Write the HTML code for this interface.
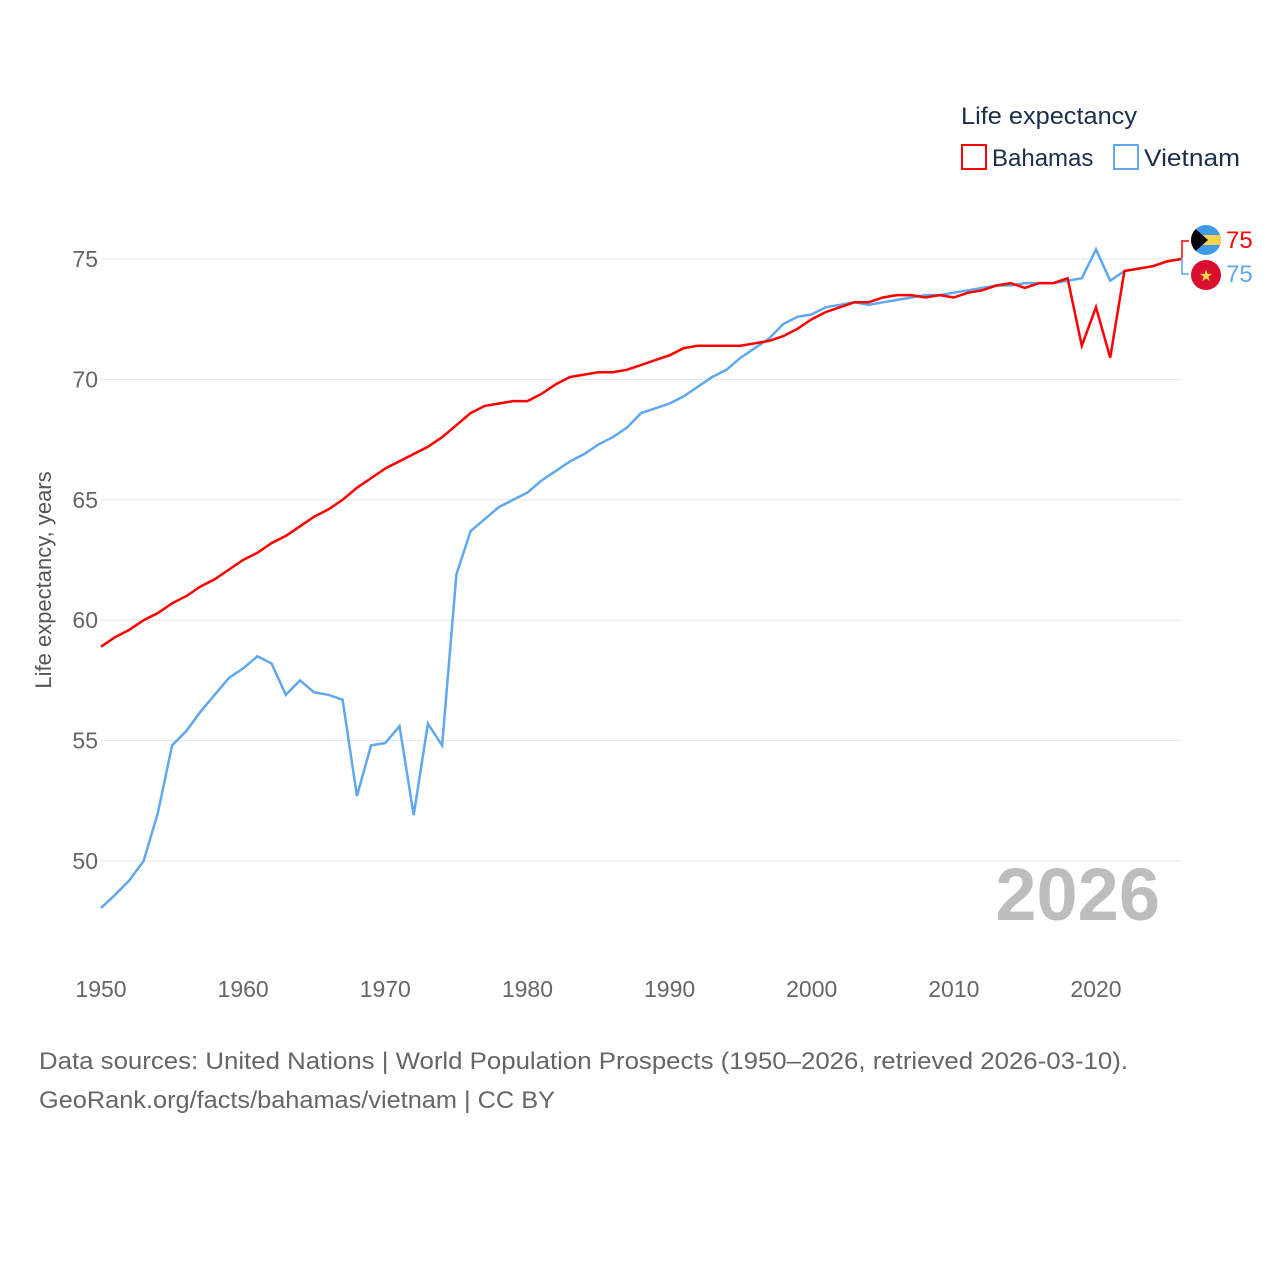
<!DOCTYPE html>
<html><head><meta charset="utf-8"><style>
html,body{margin:0;padding:0;background:#fff;}
body{width:1280px;height:1280px;position:relative;font-family:"Liberation Sans",sans-serif;overflow:hidden;}
</style></head><body>
<svg id="chart" width="1280" height="1280" xmlns="http://www.w3.org/2000/svg" style="position:absolute;left:0;top:0">
<g id="grid"></g>
<g id="yticks"></g>
<g id="xticks"></g>
<text x="1160" y="920" text-anchor="end" font-size="74" font-weight="bold" fill="#bdbdbd">2026</text>
<g id="lines"></g>
<text transform="translate(51,580) rotate(-90)" text-anchor="middle" font-size="22" fill="#555">Life expectancy, years</text>
<text x="961" y="124" font-size="24" fill="#1c2e4a" textLength="176" lengthAdjust="spacingAndGlyphs">Life expectancy</text>
<rect x="962" y="145" width="24" height="24" fill="none" stroke="#ff0000" stroke-width="2"/>
<text x="992" y="166" font-size="24" fill="#1c2e4a">Bahamas</text>
<rect x="1114" y="145" width="24" height="24" fill="none" stroke="#5fa8ee" stroke-width="2"/>
<text x="1144" y="166" font-size="24" fill="#1c2e4a" textLength="96" lengthAdjust="spacingAndGlyphs">Vietnam</text>
<g>
<clipPath id="cb"><circle cx="1206" cy="240" r="15"/></clipPath>
<g clip-path="url(#cb)"><rect x="1190" y="224" width="32" height="32" fill="#3f9ae8"/><rect x="1190" y="235" width="32" height="10" fill="#fcd34d"/><polygon points="1190,224 1208,240 1190,256" fill="#000"/></g>
</g>
<g>
<circle cx="1206" cy="275" r="15" fill="#d80f2e"/>
<text x="1206" y="281" text-anchor="middle" font-size="16" fill="#fcd34d">★</text>
</g>
<path d="M1189,241 H1182 V258" fill="none" stroke="#ff0000" stroke-width="1.5"/>
<path d="M1189,274 H1182 V258" fill="none" stroke="#5fa8ee" stroke-width="1.5"/>
<text x="1226" y="248" font-size="24" fill="#ff0000">75</text>
<text x="1226" y="282" font-size="24" fill="#5fa8ee">75</text>
<text x="39" y="1069" font-size="24" fill="#666" textLength="1089" lengthAdjust="spacingAndGlyphs">Data sources: United Nations | World Population Prospects (1950–2026, retrieved 2026-03-10).</text>
<text x="39" y="1108" font-size="24" fill="#666" textLength="516" lengthAdjust="spacingAndGlyphs">GeoRank.org/facts/bahamas/vietnam | CC BY</text>
</svg>
<script>
const startYear = 1950;
const yTicks = [50, 55, 60, 65, 70, 75];
const xTicks = [1950, 1960, 1970, 1980, 1990, 2000, 2010, 2020];
const bahamas = [58.9,59.3,59.6,60.0,60.3,60.7,61.0,61.4,61.7,62.1,62.5,62.8,63.2,63.5,63.9,64.3,64.6,65.0,65.5,65.9,66.3,66.6,66.9,67.2,67.6,68.1,68.6,68.9,69.0,69.1,69.1,69.4,69.8,70.1,70.2,70.3,70.3,70.4,70.6,70.8,71.0,71.3,71.4,71.4,71.4,71.4,71.5,71.6,71.8,72.1,72.5,72.8,73.0,73.2,73.2,73.4,73.5,73.5,73.4,73.5,73.4,73.6,73.7,73.9,74.0,73.8,74.0,74.0,74.2,71.4,73.0,70.9,74.5,74.6,74.7,74.9,75.0];
const vietnam = [48.05,48.6,49.2,50.0,52.0,54.8,55.4,56.2,56.9,57.6,58.0,58.5,58.2,56.9,57.5,57.0,56.9,56.7,52.7,54.8,54.9,55.6,51.9,55.7,54.8,61.9,63.7,64.2,64.7,65.0,65.3,65.8,66.2,66.6,66.9,67.3,67.6,68.0,68.6,68.8,69.0,69.3,69.7,70.1,70.4,70.9,71.3,71.7,72.3,72.6,72.7,73.0,73.1,73.2,73.1,73.2,73.3,73.4,73.5,73.5,73.6,73.7,73.8,73.9,73.9,74.0,74.0,74.0,74.1,74.2,75.4,74.1,74.5,74.6,74.7,74.9,75.0];
const NS = "http://www.w3.org/2000/svg";
function xs(yr){ return 101 + (yr - 1950) * (995/70); }
function ys(v){ return 259 + (75 - v) * (602/25); }
const grid = document.getElementById('grid'), yt = document.getElementById('yticks'), xt = document.getElementById('xticks'), lines = document.getElementById('lines');
yTicks.forEach(v => {
  const l = document.createElementNS(NS,'line');
  
  
  l.setAttribute('x1',101); l.setAttribute('x2',1181); l.setAttribute('y1',ys(v)); l.setAttribute('y2',ys(v));
  l.setAttribute('stroke','#e6e6e6'); l.setAttribute('stroke-width','1');
  grid.appendChild(l);
  const t = document.createElementNS(NS,'text');
  
  
  t.setAttribute('x',98); t.setAttribute('y',ys(v)+8); t.setAttribute('text-anchor','end');
  t.setAttribute('font-size','23'); t.setAttribute('fill','#666');
  t.textContent = v; yt.appendChild(t);
});
xTicks.forEach(yr => {
  const t = document.createElementNS(NS,'text');
  
  
  t.setAttribute('x',xs(yr)); t.setAttribute('y',997); t.setAttribute('text-anchor','middle');
  t.setAttribute('font-size','23'); t.setAttribute('fill','#666');
  t.textContent = yr; xt.appendChild(t);
});
function drawLine(arr, color, name){
  const p = document.createElementNS(NS,'polyline');
  
  
  p.setAttribute('points', arr.map((v,i)=>xs(startYear+i).toFixed(1)+','+ys(v).toFixed(1)).join(' '));
  p.setAttribute('fill','none'); p.setAttribute('stroke',color); p.setAttribute('stroke-width','2.5');
  p.setAttribute('stroke-linejoin','miter');
  lines.appendChild(p);
}
drawLine(vietnam,'#5fa8ee','vietnam-line');
drawLine(bahamas,'#ff0000','bahamas-line');
</script>
</body></html>
